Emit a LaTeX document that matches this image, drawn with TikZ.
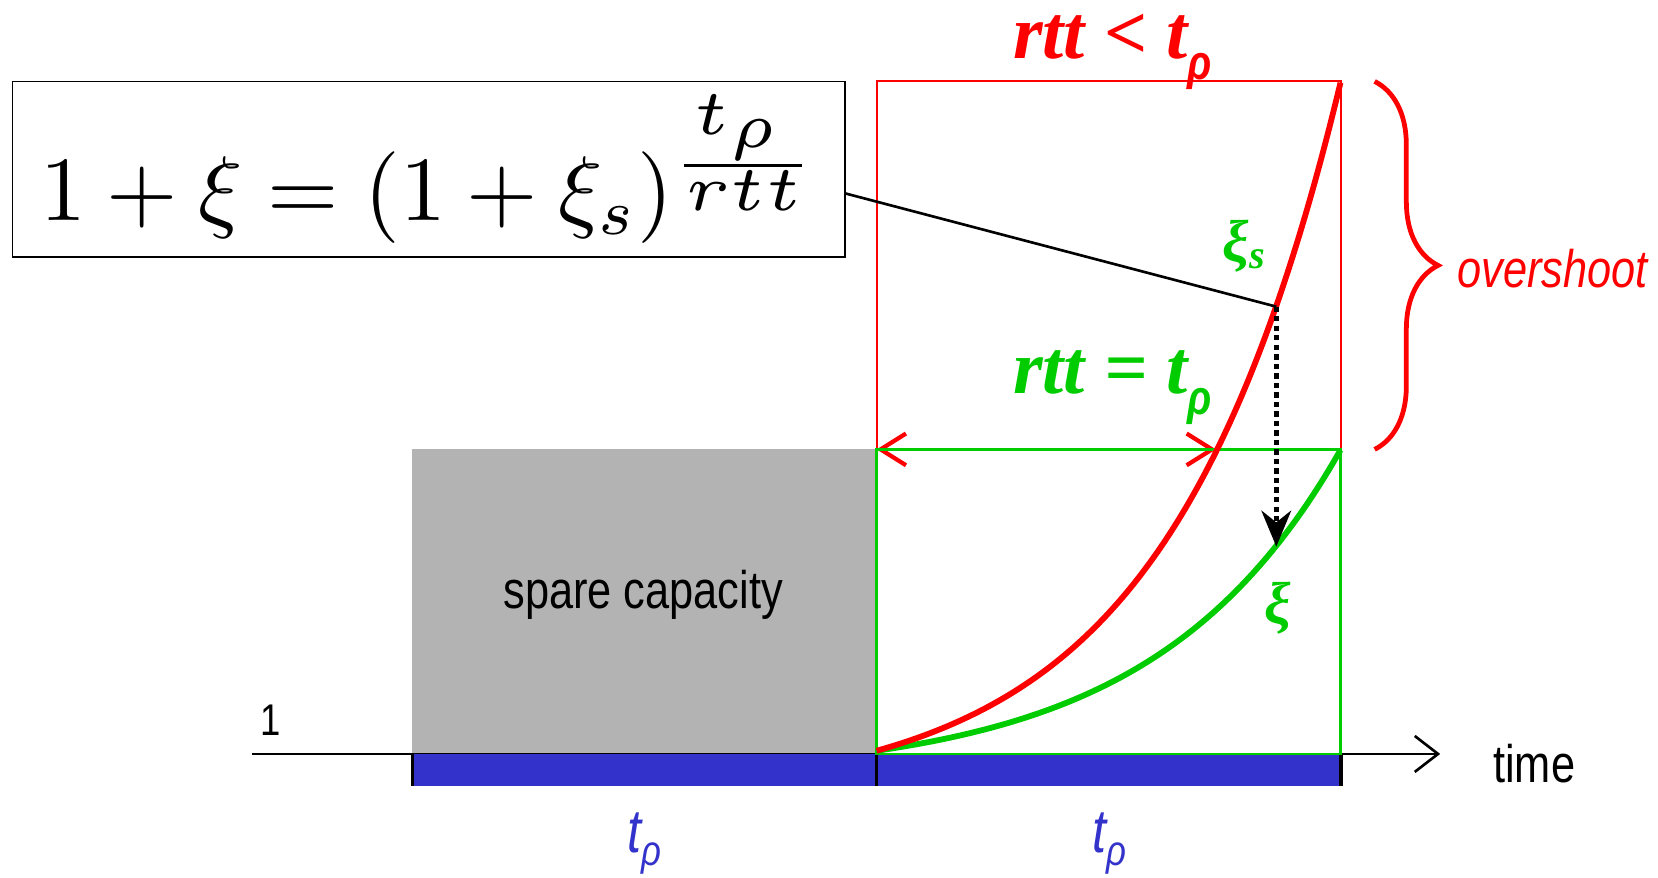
\documentclass[tikz,border=0pt]{standalone}
\usepackage{fontspec}
\usepackage{graphicx}
\usetikzlibrary{arrows.meta,decorations.pathreplacing,calc}
\newfontfamily\nsans[FakeStretch=0.82]{Liberation Sans}
\newfontfamily\lserif{Liberation Serif}
\definecolor{cred}{RGB}{255,0,0}
\definecolor{cgreen}{RGB}{0,204,0}
\definecolor{cblue}{RGB}{51,51,204}
\definecolor{cgray}{RGB}{179,179,179}
\tikzset{
  lbl/.style={inner sep=0pt, anchor=base west},
  bigserif/.style={lbl, font=\lserif\bfseries\itshape\fontsize{72pt}{76pt}\selectfont},
  narrowtxt/.style={lbl, font=\nsans\fontsize{50pt}{60pt}\selectfont},
  greek/.style={lbl, cgreen, font=\lserif\bfseries\itshape\fontsize{56pt}{60pt}\selectfont},
  tlbl/.style={lbl, cblue, font=\nsans\itshape\fontsize{58pt}{60pt}\selectfont},
  curve/.style={line width=5.5pt},
}
\newcommand{\rhosub}{\raisebox{-0.28em}{\nsans\itshape\fontsize{46pt}{46pt}\selectfont ρ}}
\begin{document}
\begin{tikzpicture}[x=1pt,y=-1pt]
\useasboundingbox (0,0) rectangle (1568,830);
% spare capacity
\fill[cgray] (390,425) rectangle (829,713);
\node[narrowtxt] (sc) at (476,575) {spare capacity};
% axis
\coordinate (ax0) at (238,713);
\coordinate (ax1) at (1362,713);
\draw[line width=2.5pt, -{Straight Barb[length=22pt,width=34pt,line width=2.5pt]}] (ax0) -- (ax1);
% blue bar
\fill[cblue] (390,713) rectangle (1268,743);
\foreach \xx in {390,829,1268} \draw[line width=3.5pt] (\xx,713) -- (\xx,743);
% boxes
\draw[cred, line width=2pt] (829,77) rectangle (1268,425);
% double arrow
\coordinate (da0) at (829,425);
\coordinate (da1) at (1150,425);
\draw[cred, line width=1.5pt, {Straight Barb[length=24pt,width=30pt,line width=4pt]}-{Straight Barb[length=24pt,width=30pt,line width=4pt]}] (da0) -- (da1);
\draw[cgreen, line width=2.5pt] (829,425) rectangle (1268,713);
% curves
\draw[cgreen, curve] plot[domain=0:1, samples=80, smooth] ({829+439*\x}, {710-285*(exp(2.5*\x)-1)/(exp(2.5)-1)});
\draw[cred, curve] plot[domain=0:1, samples=80, smooth] ({829+439*\x}, {710-633*(exp(2.7*\x)-1)/(exp(2.7)-1)});
% formula
\node[draw, line width=1.5pt, minimum width=787pt, minimum height=166pt, inner sep=0pt] (f) at (405.5,160)
  {\resizebox{735pt}{!}{$1+\xi=(1+\xi_s)^{\frac{\scalebox{1.4}{$\scriptscriptstyle t_\rho$}}{\scalebox{1.4}{$\scriptscriptstyle rtt$}}}$}};
\coordinate (xs) at (1207,290);
\coordinate (xg) at (1207,517);
\draw[line width=2.5pt] ([yshift=-23pt]f.east) -- (xs);
\draw[line width=5pt, dash pattern=on 5pt off 4pt, -{Stealth[length=34pt,width=28pt]}] (xs) -- (xg);
% brace
\draw[cred, line width=4.5pt, decorate, decoration={brace, amplitude=60pt}] (1300,77) -- (1300,425);
\node[lbl, cred, font=\nsans\itshape\fontsize{50pt}{60pt}\selectfont] (ov) at (1378,272) {overshoot};
% labels
\node[bigserif, cred] (lt) at (958,55) {rtt < t\rhosub};
\node[bigserif, cgreen] (eq) at (958,372) {rtt = t\rhosub};
\node[greek] (ls) at (1156,247) {ξ\raisebox{-0.12em}{\fontsize{38pt}{38pt}\selectfont s}};
\node[greek] (lx) at (1196,590) {ξ};
\node[narrowtxt] (tm) at (1412,740) {time};
\node[lbl, font=\nsans\fontsize{42pt}{42pt}\selectfont] (one) at (246,696) {1};
\node[tlbl] (t1) at (593,806) {t\raisebox{-0.22em}{\fontsize{40pt}{40pt}\selectfont ρ}};
\node[tlbl] (t2) at (1033,806) {t\raisebox{-0.22em}{\fontsize{40pt}{40pt}\selectfont ρ}};
\end{tikzpicture}
\end{document}
